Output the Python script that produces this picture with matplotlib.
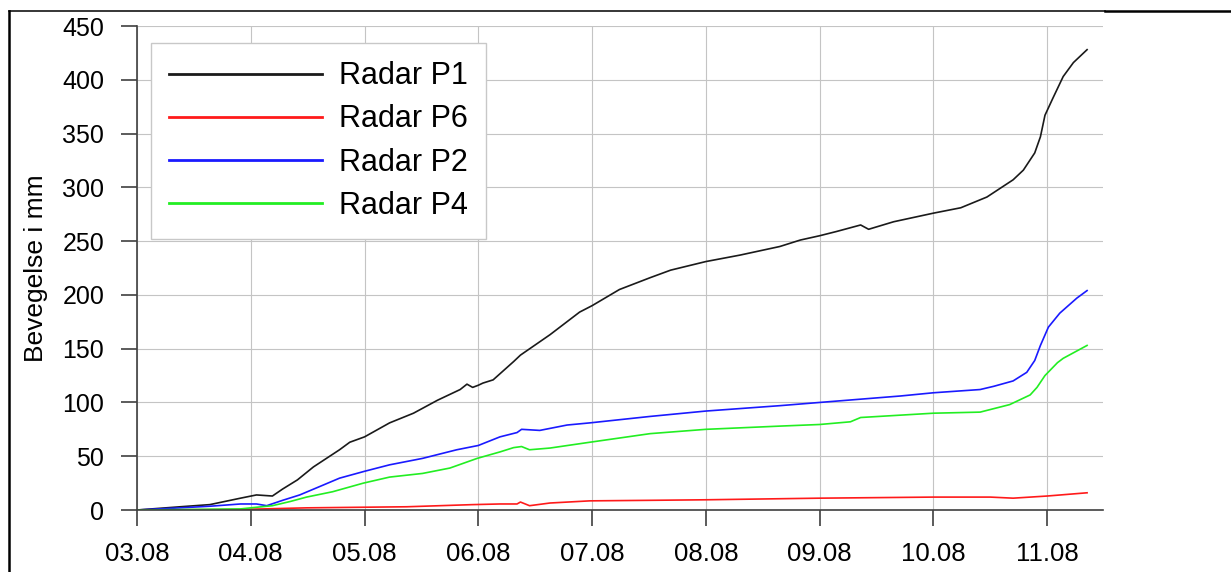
import matplotlib
matplotlib.use("Agg")
import matplotlib.pyplot as plt
from matplotlib.lines import Line2D

plt.rcParams['font.family'] = ['Liberation Sans', 'DejaVu Sans']

# time in days of August (03.08 = 3.0)
p1_t = [3.00, 3.38, 3.64, 3.91, 4.05, 4.19, 4.28, 4.41, 4.55, 4.78, 4.87, 5.00, 5.22, 5.43,
        5.64, 5.84, 5.90, 5.95, 6.00, 6.04, 6.13, 6.31, 6.37, 6.63, 6.89, 7.00, 7.24, 7.51,
        7.69, 8.00, 8.30, 8.65, 8.83, 9.00, 9.15, 9.36, 9.43, 9.65, 10.00, 10.24, 10.47,
        10.70, 10.79, 10.89, 10.94, 10.98, 11.05, 11.14, 11.23, 11.35]
p1_v = [0, 3, 5, 11, 14, 13, 19.5, 28, 40, 56, 63, 68, 81, 90,
        102, 112, 117, 114, 116, 118, 121, 138, 144, 163, 184, 190, 205, 216,
        223, 231, 237, 245, 251, 255, 259, 265, 261, 268, 276, 281, 291,
        307, 316, 332, 347, 367, 383, 403, 416, 428]

p6_t = [3.00, 3.91, 4.49, 5.37, 5.95, 6.19, 6.34, 6.37, 6.45, 6.63, 6.98, 7.51, 8.00,
        9.00, 10.00, 10.50, 10.70, 11.00, 11.35]
p6_v = [0, 0.5, 2, 3, 5, 5.6, 5.6, 7.4, 4, 6.5, 8.5, 9, 9.5,
        11, 12, 12, 11, 13, 16]

p2_t = [3.00, 3.38, 3.64, 3.91, 4.05, 4.14, 4.28, 4.43, 4.61, 4.78, 5.00, 5.22, 5.51, 5.81,
        6.00, 6.19, 6.34, 6.38, 6.54, 6.78, 6.98, 7.51, 8.00, 8.65, 9.00, 9.71, 10.00,
        10.41, 10.53, 10.70, 10.82, 10.89, 10.94, 11.01, 11.11, 11.26, 11.35]
p2_v = [0, 2, 3.5, 5.6, 5.6, 4, 9, 14, 22, 29.6, 36, 42, 48, 56,
        60, 68, 72, 75, 74, 79, 81, 87, 92, 97, 100, 106, 109,
        112, 115, 120, 128, 139, 153, 170, 183, 197, 204]

p4_t = [3.00, 3.91, 4.00, 4.19, 4.35, 4.49, 4.72, 4.99, 5.22, 5.51, 5.75, 5.99, 6.19, 6.31,
        6.38, 6.45, 6.63, 6.98, 7.51, 8.00, 8.65, 9.00, 9.27, 9.36, 10.00, 10.41, 10.67,
        10.85, 10.91, 10.98, 11.09, 11.14, 11.35]
p4_v = [0, 1, 2, 4, 8, 12, 17, 25, 30.6, 34, 39, 48, 54, 58,
        59, 56, 57.6, 63, 71, 75, 78, 79.5, 82, 86, 90, 91, 98,
        107, 114, 125, 137, 141, 153]

x_ticks = [3, 4, 5, 6, 7, 8, 9, 10, 11]
x_labels = ['03.08', '04.08', '05.08', '06.08', '07.08', '08.08', '09.08', '10.08', '11.08']
y_ticks = [0, 50, 100, 150, 200, 250, 300, 350, 400, 450]

fig = plt.figure(figsize=(12.31, 5.72), dpi=100)
ax = fig.add_axes([137 / 1231, 62 / 572, 966 / 1231, 484 / 572])

ax.plot(p1_t, p1_v, color='#1a1a1a', lw=1.2, label='Radar P1')
ax.plot(p6_t, p6_v, color='#ff1a1a', lw=1.2, label='Radar P6')
ax.plot(p2_t, p2_v, color='#1a1aff', lw=1.2, label='Radar P2')
ax.plot(p4_t, p4_v, color='#22ee22', lw=1.2, label='Radar P4')

ax.set_xlim(3, 11.49)
ax.set_ylim(0, 450)
ax.set_xticks(x_ticks)
ax.set_xticklabels(x_labels)
ax.set_yticks(y_ticks)

ax.grid(True, color='#c4c4c4', lw=0.8)
ax.set_axisbelow(True)
for s in ['top', 'right']:
    ax.spines[s].set_visible(False)
for s in ['left', 'bottom']:
    ax.spines[s].set_color('#404040')
    ax.spines[s].set_linewidth(1.2)
ax.tick_params(axis='both', direction='out', length=11.5, width=1.2, color='#404040',
               labelsize=18, labelcolor='black')
ax.tick_params(axis='y', pad=12)
ax.tick_params(axis='x', labelsize=18.5, pad=11.5)

ax.set_ylabel('Bevegelse i mm', fontsize=19)
ax.yaxis.set_label_coords(-0.092, 0.5)

leg = ax.legend(loc='upper left', bbox_to_anchor=(0.0145, 0.965), borderaxespad=0,
                fontsize=22, handlelength=5.0, handletextpad=0.55, labelspacing=0.43,
                borderpad=0.6, fancybox=False, framealpha=1, edgecolor='#c8c8c8')
leg.get_frame().set_linewidth(1.0)
for h in leg.get_lines():
    h.set_linewidth(2.0)

# page frame lines around the figure
fig.add_artist(Line2D([8.5 / 1231, 1105 / 1231], [1 - 10.8 / 572, 1 - 10.8 / 572],
                      transform=fig.transFigure, color='black', lw=1.1))
fig.add_artist(Line2D([1105 / 1231, 1.0], [1 - 11.2 / 572, 1 - 11.2 / 572],
                      transform=fig.transFigure, color='black', lw=1.8))
fig.add_artist(Line2D([8.5 / 1231, 8.5 / 1231], [0, 1 - 10.5 / 572],
                      transform=fig.transFigure, color='black', lw=1.8))

fig.savefig('out.png', dpi=100)
